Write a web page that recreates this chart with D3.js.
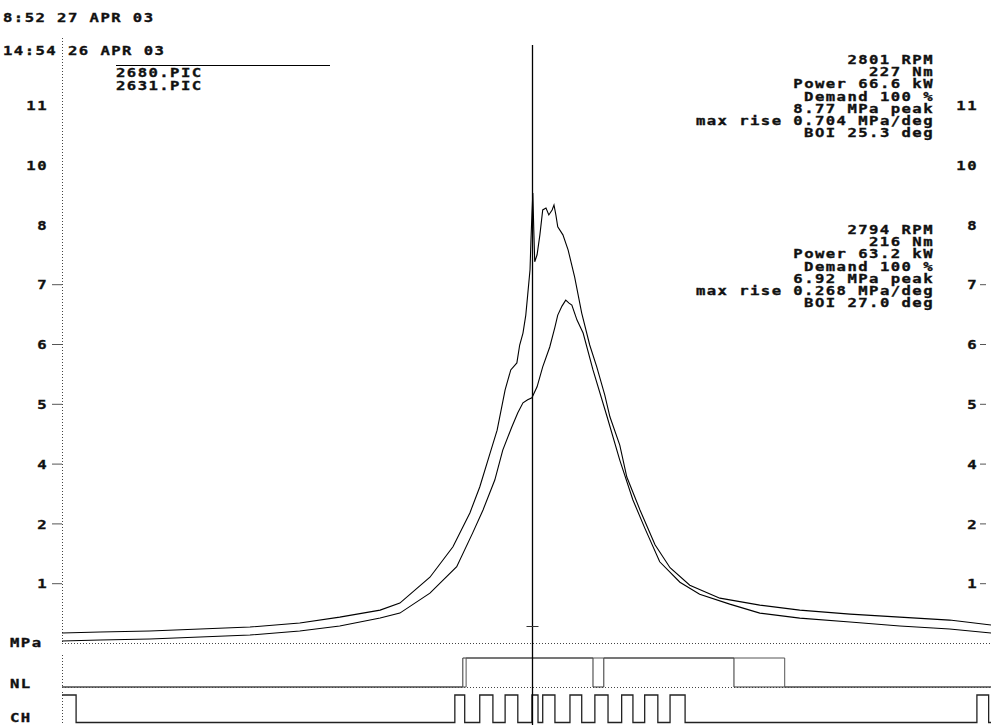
<!DOCTYPE html>
<html>
<head>
<meta charset="utf-8">
<script src="https://cdn.jsdelivr.net/npm/d3@7"></script>
<style>
  html, body { margin: 0; padding: 0; background: #fff; }
  svg text { font-family: "DejaVu Sans Mono", monospace; font-weight: bold; font-size: 13px; fill: #111;
    stroke: #111; stroke-width: 0.35px; letter-spacing: 1.2px; }
</style>
</head>
<body>
<svg id="chart" width="991" height="725"></svg>
<script>
// crank angle (deg, 0 at cursor) and cylinder pressure (MPa)
const angleA = [-100, -91.9, -81.3, -70.6, -60, -49.4, -40.9, -32.3, -28.1, -21.7, -16.8, -13.2, -11.1, -8.9, -7.4,
  -5.7, -4.5, -3.2, -2.6, -1.9, -1.3, -0.9, -0.4, -0.2, 0, 0.2, 0.4, 0.6, 1.1, 1.7, 2.3, 3.0, 3.6, 4.3, 4.7, 5.1,
  5.5, 6.6, 7.7, 9.1, 10.6, 12.3, 13.8, 15.5, 16.6, 18.7, 20.2, 23.0, 26.2, 29.4, 33.6, 40.0, 48.5, 57.0, 67.7,
  78.3, 88.9, 97.7];
const pressA = [0.20, 0.22, 0.24, 0.28, 0.32, 0.40, 0.52, 0.66, 0.80, 1.32, 1.93, 2.61, 3.13, 3.81, 4.27,
  5.08, 5.48, 5.62, 5.98, 6.22, 6.58, 6.98, 7.49, 8.09, 8.59, 9.03, 8.29, 7.65, 7.79, 8.19, 8.69, 8.73, 8.59, 8.69, 8.79, 8.59,
  8.35, 8.19, 7.89, 7.34, 6.62, 5.98, 5.54, 4.98, 4.54, 3.97, 3.33, 2.67, 1.97, 1.51, 1.16, 0.90, 0.76, 0.66, 0.58,
  0.52, 0.46, 0.36];
const angleB = [-100, -91.9, -81.3, -70.6, -60, -49.4, -40.9, -32.3, -28.1, -21.7, -16.0, -12.6, -10.4, -7.9, -6.2,
  -4.3, -3.0, -1.9, -0.9, 0, 1.1, 2.3, 3.8, 4.9, 5.5, 6.4, 7.2, 7.9, 8.5, 9.6, 10.9, 13.0, 16.0, 18.7, 21.5, 24.0,
  27.2, 31.5, 35.7, 42.1, 48.5, 57.0, 67.7, 78.3, 88.9, 97.7];
const pressB = [0.04, 0.06, 0.08, 0.12, 0.16, 0.24, 0.34, 0.50, 0.60, 1.00, 1.53, 2.21, 2.67, 3.27, 3.87,
  4.33, 4.62, 4.82, 4.88, 4.92, 5.14, 5.54, 5.94, 6.34, 6.58, 6.76, 6.88, 6.82, 6.78, 6.48, 6.22, 5.48, 4.54, 3.67, 2.87, 2.31,
  1.63, 1.22, 0.98, 0.78, 0.60, 0.50, 0.42, 0.34, 0.28, 0.20];

// axis: one division is 1.2 MPa, labels as printed
const tickValues = [1.2, 2.4, 3.6, 4.8, 6.0, 7.2, 8.4, 9.6, 10.8];
const tickLabels = ['1', '2', '4', '5', '6', '7', '8', '10', '11'];

const stamps = ['8:52 27 APR 03', '14:54 26 APR 03'];
const fileNames = ['2680.PIC', '2631.PIC'];
const statsA = ['2801 RPM', '227 Nm', 'Power 66.6 kW', 'Demand 100 %', '8.77 MPa peak', 'max rise 0.704 MPa/deg', 'BOI 25.3 deg'];
const statsB = ['2794 RPM', '216 Nm', 'Power 63.2 kW', 'Demand 100 %', '6.92 MPa peak', 'max rise 0.268 MPa/deg', 'BOI 27.0 deg'];

// digital channels: angles where the level toggles
const nlEdgesA = [-14.7, 13.0, 15.3, 43.0];
const nlEdgesB = [-14.0, 53.8];
const chStart = 1;
const chEdges = [-97.0, -16.4, -14.3, -11.1, -8.3, -5.7, -3.0, 0, 1.3, 2.3, 4.9, 8.1, 10.6, 13.4, 16.2, 19.1, 21.5,
  24.0, 26.8, 29.4, 32.6, 94.7, 97.2];

const svg = d3.select('#chart');
const left = 62, right = 991, base = 643;
const sx = 1.2; // horizontal stretch of the lettering

const x = d3.scaleLinear().domain([-100, 97.7]).range([left, right]);
const y = d3.scaleLinear().domain([0, 12]).range([base, base - 598]);

function label(g, str, px, py, anchor) {
  return g.append('text')
    .attr('transform', `translate(${px},${py}) scale(${sx},1)`)
    .attr('text-anchor', anchor || 'start')
    .text(str);
}

// dotted frame lines
const dotted = svg.append('g').attr('stroke', '#444').attr('stroke-width', 1).attr('stroke-dasharray', '1,2');
dotted.append('line').attr('x1', left + 0.5).attr('x2', left + 0.5).attr('y1', 38).attr('y2', base);
dotted.append('line').attr('x1', left).attr('x2', right).attr('y1', base + 0.5).attr('y2', base + 0.5);
dotted.append('line').attr('x1', left + 0.5).attr('x2', left + 0.5).attr('y1', 655).attr('y2', 687);
dotted.append('line').attr('x1', left).attr('x2', right).attr('y1', 687.5).attr('y2', 687.5);
dotted.append('line').attr('x1', left + 0.5).attr('x2', left + 0.5).attr('y1', 692).attr('y2', 725);

// left axis
const yAxisL = svg.append('g')
  .attr('transform', `translate(${left},0)`)
  .call(d3.axisLeft(y).tickValues(tickValues).tickFormat((d, i) => tickLabels[i]).tickSize(10).tickPadding(4));
// right axis, labels sit inside the plot
const yAxisR = svg.append('g')
  .attr('transform', `translate(${right - 5},0)`)
  .call(d3.axisLeft(y).tickValues(tickValues).tickFormat((d, i) => tickLabels[i]).tickSize(6).tickPadding(2));

[[yAxisL, -14], [yAxisR, -8]].forEach(([ax, off]) => {
  ax.select('.domain').remove();
  ax.selectAll('.tick line').attr('stroke', '#555').attr('opacity', d => d > 7.5 ? 0 : 1);
  ax.selectAll('.tick text')
    .attr('font-family', null).attr('font-size', null)
    .attr('x', off / sx)
    .attr('transform', `scale(${sx},1)`)
    .attr('dy', '0.36em');
});

// pressure traces
const line = d3.line().x(d => x(d[0])).y(d => y(d[1]));
const traces = [d3.zip(angleA, pressA), d3.zip(angleB, pressB)];
svg.append('g').selectAll('path').data(traces).join('path')
  .attr('d', line)
  .attr('fill', 'none')
  .attr('stroke', '#000')
  .attr('stroke-width', 1.1);

// step signals
function steps(edges, start) {
  const pts = [[x.domain()[0], start]];
  let lvl = start;
  edges.forEach(e => { lvl = 1 - lvl; pts.push([e, lvl]); });
  pts.push([x.domain()[1], lvl]);
  return pts;
}
const yNL = d3.scaleLinear().domain([0, 1]).range([687, 658]);
const yCH = d3.scaleLinear().domain([0, 1]).range([722.5, 695]);
const stepNL = d3.line().curve(d3.curveStepAfter).x(d => x(d[0])).y(d => yNL(d[1]));
const stepCH = d3.line().curve(d3.curveStepAfter).x(d => x(d[0])).y(d => yCH(d[1]));

svg.append('path').attr('d', stepNL(steps(nlEdgesA, 0))).attr('fill', 'none').attr('stroke', '#333').attr('stroke-width', 1);
svg.append('path').attr('d', stepNL(steps(nlEdgesB, 0))).attr('fill', 'none').attr('stroke', '#555').attr('stroke-width', 1);
svg.append('path').attr('d', stepCH(steps(chEdges, chStart))).attr('fill', 'none').attr('stroke', '#222').attr('stroke-width', 1.3);

// cursor
const cx = Math.round(x(0)) + 0.5;
svg.append('line').attr('x1', cx).attr('x2', cx).attr('y1', 45).attr('y2', 725).attr('stroke', '#000').attr('stroke-width', 1.3);
svg.append('line').attr('x1', cx - 6).attr('x2', cx + 6).attr('y1', 626.5).attr('y2', 626.5).attr('stroke', '#333');

// texts
const txt = svg.append('g');
label(txt, stamps[0], 3, 22);
label(txt, stamps[1], 3, 55);
svg.append('line').attr('x1', 116).attr('x2', 330).attr('y1', 65.5).attr('y2', 65.5).attr('stroke', '#000');
fileNames.forEach((f, i) => label(txt, f, 116, 77 + i * 12.5));
statsA.forEach((s, i) => label(txt, s, 934, 64 + i * 12.2, 'end'));
statsB.forEach((s, i) => label(txt, s, 934, 234 + i * 12.2, 'end'));
label(txt, 'MPa', 10, 647);
label(txt, 'NL', 10, 688);
label(txt, 'CH', 10, 722);
</script>
</body>
</html>
